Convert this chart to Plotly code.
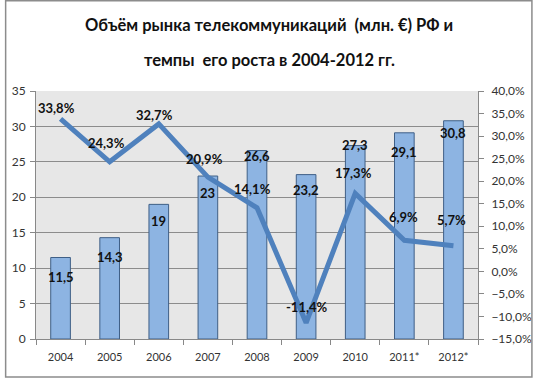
import plotly.graph_objects as go

years = ["2004", "2005", "2006", "2007", "2008", "2009", "2010", "2011*", "2012*"]
market = [11.5, 14.3, 19, 23, 26.6, 23.2, 27.3, 29.1, 30.8]
growth = [33.8, 24.3, 32.7, 20.9, 14.1, -11.4, 17.3, 6.9, 5.7]
title_lines = ["Объём рынка телекоммуникаций  (млн. €) РФ и", "темпы  его роста в 2004-2012 гг."]

# label offsets (pixels) – styling only
bar_label_shift = [-19, -19, -17, -17, -5, -15, 1, -19, -12]
pct_label_shift = [11, 19, 9, 18, 19, 16, 20, 23, 26]
pct_label_xshift = [-4, -3, -4, -3, -5, 1, -2, -1, -2]

FONT = "Lato, Open Sans, sans-serif"

def fmt(v):
    return ("%g" % v).replace(".", ",")

fig = go.Figure()
fig.add_trace(go.Bar(
    x=years, y=market, name="market",
    marker=dict(color="#8db4e2", line=dict(color="#3f5f86", width=1)),
    yaxis="y",
))
fig.add_trace(go.Scatter(
    x=years, y=growth, name="growth", mode="lines",
    line=dict(color="#4f81bd", width=5),
    yaxis="y2",
))

W, H = 544, 379
ml, mr, mt, mb = 32, 57, 91, 40
pw, ph = W - ml - mr, H - mt - mb

annotations = []
for i, v in enumerate(market):
    annotations.append(dict(
        x=i, y=v, xref="x", yref="y", text="<b>" + fmt(v) + "</b>",
        showarrow=False, yanchor="middle", yshift=bar_label_shift[i],
        font=dict(family=FONT, size=13, color="#111111"),
    ))
for i, v in enumerate(growth):
    annotations.append(dict(
        x=i, y=v, xref="x", yref="y2", text="<b>" + ("%.1f" % v).replace(".", ",") + "%</b>",
        showarrow=False, yanchor="middle", yshift=pct_label_shift[i], xshift=pct_label_xshift[i],
        font=dict(family=FONT, size=13, color="#111111"),
    ))
for k, (line, ypix) in enumerate(zip(title_lines, [25, 60])):
    annotations.append(dict(
        x=(W / 2 - ml) / pw, y=(H - mb - ypix) / ph, xref="paper", yref="paper",
        text="<b>" + line + "</b>", showarrow=False, xanchor="center", yanchor="middle",
        font=dict(family=FONT, size=16.5, color="#111111"),
    ))

fig.update_layout(
    width=W, height=H,
    margin=dict(l=ml, r=mr, t=mt, b=mb),
    paper_bgcolor="white",
    plot_bgcolor="#e7e7e7",
    separators=", ",
    showlegend=False,
    bargap=0.6,
    xaxis=dict(
        type="category", range=[-0.5, len(years) - 0.5], showgrid=False, showline=True,
        linecolor="#888888", ticks="outside", tickson="boundaries", ticklen=5, tickcolor="#888888",
        tickfont=dict(family=FONT, size=11, color="#333333"), tickangle=0, ticklabelstandoff=8,
    ),
    yaxis=dict(
        range=[0, 35], dtick=5, showgrid=True, gridcolor="#8c8c8c", gridwidth=1,
        showline=True, linecolor="#888888", ticks="outside", ticklen=5, tickcolor="#888888",
        tickfont=dict(family=FONT, size=12, color="#333333"), ticklabelstandoff=2,
        zeroline=False,
    ),
    yaxis2=dict(
        range=[-15, 40], dtick=5, overlaying="y", side="right", showgrid=False,
        tickformat=".1f", ticksuffix="%", showline=True, linecolor="#888888",
        ticks="outside", ticklen=5, tickcolor="#888888", zeroline=False, ticklabelstandoff=5,
        tickfont=dict(family=FONT, size=12, color="#333333"),
    ),
    annotations=annotations,
    shapes=[dict(
        type="rect", xref="paper", yref="paper",
        x0=(-ml + 0.75) / pw, x1=(W - ml - 1.5) / pw,
        y0=(-mb + 2) / ph, y1=(H - mb - 0.75) / ph,
        line=dict(color="#8c8c8c", width=1.5), fillcolor="rgba(0,0,0,0)", layer="above",
    )],
)

fig.write_html("out.html", config={"displayModeBar": False},
               post_script="document.body.style.margin='0';")
